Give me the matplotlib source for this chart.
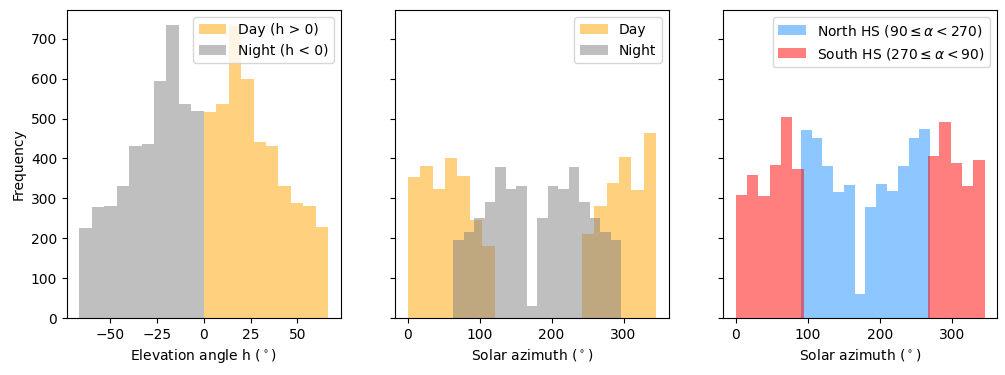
import numpy as np
from matplotlib import pyplot as plt

# elevation angle histogram (counts per bin)
elev_night = [225, 277, 282, 331, 432, 437, 595, 735, 537, 520]
elev_day = [516, 537, 732, 600, 440, 432, 331, 288, 280, 227]
elev_night_edges = np.linspace(-66.5, 0, 11)
elev_day_edges = np.linspace(0, 66.5, 11)

# solar azimuth, day vs night
az_day = [353, 381, 323, 401, 356, 246, 181, 0, 0, 0, 0, 0, 0, 0,
          210, 281, 338, 403, 321, 463]
az_night = [196, 216, 250, 291, 378, 323, 331, 29, 251, 331, 323, 378,
            291, 251, 216, 196]
az_day_edges = np.linspace(0, 345.6, 21)
az_night_edges = np.linspace(63, 297, 17)

# solar azimuth, north vs south hemisphere
az_north = [471, 451, 381, 316, 333, 61, 278, 336, 318, 381, 451, 473]
az_south = [308, 358, 306, 383, 503, 373, 0, 0, 0, 0, 0, 0, 0, 0, 0, 0, 0,
            407, 491, 388, 331, 396]
az_north_edges = np.linspace(90, 269, 13)
az_south_edges = np.linspace(0, 344.4, 23)

fig, axs = plt.subplots(1, 3, figsize=(10.05, 3.75), sharey=True)
fig.subplots_adjust(left=0.0667, right=0.992, top=0.973, bottom=0.152, wspace=0.2)

ax = axs[0]
ax.hist(elev_day_edges[:-1], bins=elev_day_edges, weights=elev_day,
        color='orange', alpha=0.5, label='Day (h > 0)')
ax.hist(elev_night_edges[:-1], bins=elev_night_edges, weights=elev_night,
        color='gray', alpha=0.5, label='Night (h < 0)')
ax.set_xlabel(r'Elevation angle h ($^\circ$)')
ax.set_ylabel('Frequency')
ax.legend(loc='upper right')

ax = axs[1]
ax.hist(az_day_edges[:-1], bins=az_day_edges, weights=az_day,
        color='orange', alpha=0.5, label='Day')
ax.hist(az_night_edges[:-1], bins=az_night_edges, weights=az_night,
        color='gray', alpha=0.5, label='Night')
ax.set_xlabel(r'Solar azimuth ($^\circ$)')
ax.legend(loc='upper right')

ax = axs[2]
ax.hist(az_north_edges[:-1], bins=az_north_edges, weights=az_north,
        color='dodgerblue', alpha=0.5, label=r'North HS ($90 \leq \alpha < 270$)')
ax.hist(az_south_edges[:-1], bins=az_south_edges, weights=az_south,
        color='red', alpha=0.5, label=r'South HS ($270 \leq \alpha < 90$)')
ax.set_xlabel(r'Solar azimuth ($^\circ$)')
ax.legend(loc='upper right')

plt.savefig('out.png', dpi=100)
